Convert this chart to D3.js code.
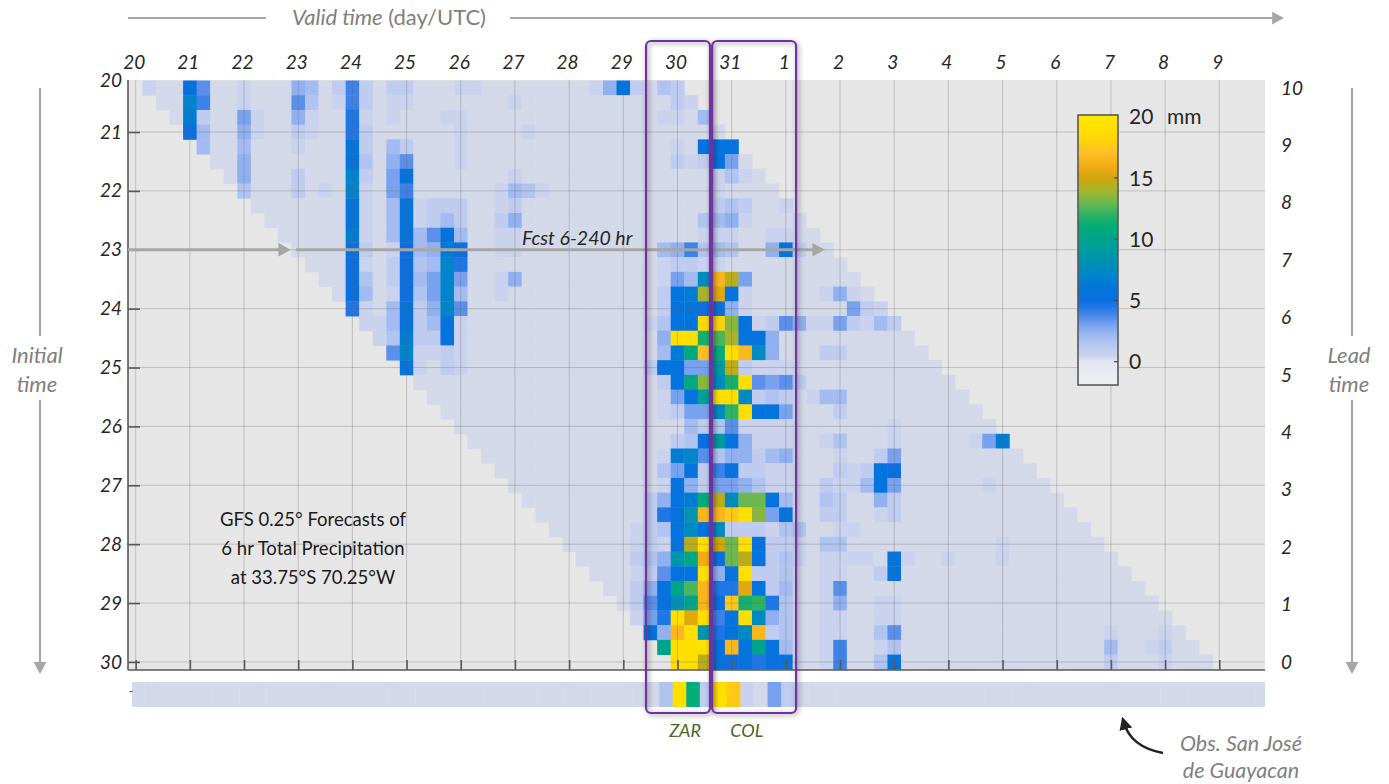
<!DOCTYPE html>
<html><head><meta charset="utf-8">
<script src="https://cdn.jsdelivr.net/npm/d3@7"></script>
<style>
body{margin:0;background:#fff}
svg{display:block}
text{font-family:Lato,"Open Sans","DejaVu Sans",sans-serif}
</style>
</head><body>
<svg id="chart" width="1389" height="784"></svg>
<script>
// ---------------- DATA ----------------
// valid-time day labels (Jan 20 .. Feb 9), one per day at 00 UTC
const validDayLabels = ["20","21","22","23","24","25","26","27","28","29","30","31","1","2","3","4","5","6","7","8","9"];
// initial-time day labels (Jan 20 .. Jan 30)
const initDayLabels = ["20","21","22","23","24","25","26","27","28","29","30"];
// lead-time labels (days), right axis
const leadDayLabels = [0,1,2,3,4,5,6,7,8,9,10];
// colour legend ticks (mm)
const legendTicks = [0,5,10,15,20];
// value codes: character index x 0.5 mm ; digits = run of that many 0-mm cells
const valueCodes = ".abcdefghijklmnopqrstuvwxyzABCDEFGHIJKLMN";
// 6-hr precip forecasts, one row per GFS run (Jan 20 06Z + 6h*k), leads 6..240 h (40 values)
const fcstRows = [
  "a2kg2a3ed.bhb.bb3aa8aekb.cb",
  "2nh2a3gc.ahb.aa7a11ba",
  ".mb2fa2ea2ia.a3aa14aa.d",
  "jd2ea2ba2ib6a4a14",
  "d2d3a3kb.db3a15a.kkk",
  "2e7kc.eg3a15babkf.",
  ".e3b3nb.fk7a14aca.",
  "c3b.a.na.fh6adca12a4",
  "7ka.dkabbb2ab14bcb2a",
  "6ka.dkabdb2be13cdea4",
  "5ma.dkdgkd2aa13aaa2aa2",
  "4jb.ajdemj2aa10dehcdc2ekb2",
  "3ja.bjcdni14abbaa9",
  "2jc.bjdfnf2ae10afdoGCf8",
  ".jd.ajcfnd2a11bkmBEka5aea.",
  "ia.dkbeng14bkkjjea7fba",
  "aadkbdka13acklKJAkabgeaafbadb",
  "acmbbka14eLLwyBkke10",
  "gnaaba14dmuHvLGoe3bb6",
  "ka.ba13bkkffrCbaaa11",
  "18bkuAowLgfgb11",
  "17afksLLobcb.add9",
  "16abffoxLkkf3b10",
  "17dbcgaaaa7a7",
  "15bcjrkeaaa2ac3a5afm",
  "13amngceebde3a2bf9",
  "12cfkbhkbbaa3babkj10",
  "11akebffecaa2baadkf6a4",
  "9bekmvCozzkd2cb2eb12",
  "8bikqGGILAfk2bb2ab13",
  "6abckokobbbacc2aa17",
  "5abakCLDzLkbba.cc11a7",
  "4bcequFjzCkbca.aaaa.ka2a3a8",
  "3abgkkLekLbbc2aa2bk17",
  "2bektyGiiEkbd2ag22",
  ".bgkptGjIwxic2ae2aa19",
  "afiLELhkLoec2aa2aa20",
  "keGLqikoGbc2aa2cg15a3a.",
  "tLLLjGktkd2ah2ac15d2ab2",
  "LLCkjkijk2ah2ck15b3a3"
];
// observed 6-hr precip at San José de Guayacan, Jan 20 00Z .. Feb 9 18Z (84 periods)
const obsRow = "39cLvbLIa.fb35";
// colour scale stops (mm) and colours
const colorStops = [0,0.5,1,1.5,2,2.5,3,3.5,4,4.5,5,6,7,8,9,10,11,12,13,14,15,16,17,18,19,20];
const colorRange = ["#d4d9ea","#cad2ee","#bfccef","#b1c4f0","#a3bbf0","#90b0f0","#78a2ee","#5a90ea","#3c82e8","#1e77e6","#0a70e2","#0076da","#0084cc","#008fb6","#009aa2","#00a48c","#00ac78","#2eb264","#6cb84e","#a6b42a","#d0a60a","#f4ac14","#ffbf26","#ffd30c","#ffdf00","#ffe600"];

function decode(s){
  const out=[]; const re=/(\d+)|(.)/g; let m;
  while((m=re.exec(s))){
    if(m[1]){ for(let n=+m[1];n>0;n--) out.push(0); }
    else out.push(valueCodes.indexOf(m[2])*0.5);
  }
  return out;
}

// ---------------- CHART ----------------
const svg = d3.select("#chart");
const plot = {left:128, right:1265, top:80, bottom:670};
const color = d3.scaleLinear().domain(colorStops).range(colorRange).clamp(true);
// time in days since Jan 20 00 UTC
const x = d3.scaleLinear().domain([-0.125, 20.875]).range([128.9, 1266.7]);
const y = d3.scaleLinear().domain([0.125, 10.125]).range([80.5, 669.3]);
const lead = d3.scaleLinear().domain([0,10]).range([662, 88]);
const FONT = "Lato,sans-serif";

const defs = svg.append("defs");
defs.append("clipPath").attr("id","plotClip").append("rect")
  .attr("x",plot.left).attr("y",plot.top).attr("width",plot.right-plot.left).attr("height",plot.bottom-plot.top);
defs.append("clipPath").attr("id","obsClip").append("rect")
  .attr("x",132).attr("y",680).attr("width",1265-132).attr("height",30);
const f = defs.append("filter").attr("id","shadow").attr("x","-30%").attr("y","-5%").attr("width","160%").attr("height","110%");
f.append("feDropShadow").attr("dx",1.5).attr("dy",1.5).attr("stdDeviation",2.4).attr("flood-color","#000").attr("flood-opacity",0.45);
defs.append("marker").attr("id","blackHead").attr("viewBox","0 0 10 10").attr("refX",5).attr("refY",5)
  .attr("markerWidth",5).attr("markerHeight",5).attr("orient","auto")
  .append("path").attr("d","M0,0 L10,5 L0,10 z").attr("fill","#222");

// plot background
svg.append("rect").attr("x",plot.left).attr("y",plot.top).attr("width",plot.right-plot.left)
  .attr("height",plot.bottom-plot.top).attr("fill","#e6e6e6");

// cells
const cells=[];
fcstRows.forEach((s,k)=>{
  const vals = decode(s);
  const tInit = 0.25 + 0.25*k;
  vals.forEach((v,i)=>{ cells.push({tInit, tv: tInit + 0.25*i, v}); });
});
svg.append("g").attr("clip-path","url(#plotClip)").selectAll("rect").data(cells).join("rect")
  .attr("x",d=>x(d.tv-0.125)).attr("width",d=>x(d.tv+0.125)-x(d.tv-0.125)+0.4)
  .attr("y",d=>y(d.tInit-0.125)).attr("height",d=>y(d.tInit+0.125)-y(d.tInit-0.125)+0.4)
  .attr("fill",d=>color(d.v));

// grid
const grid = svg.append("g").attr("stroke","rgba(100,100,100,0.3)").attr("stroke-width",1);
grid.selectAll("line.v").data(d3.range(0,21)).join("line").attr("class","v")
  .attr("x1",d=>x(d)).attr("x2",d=>x(d)).attr("y1",plot.top).attr("y2",plot.bottom);
grid.selectAll("line.h").data(d3.range(1,11)).join("line").attr("class","h")
  .attr("y1",d=>y(d)).attr("y2",d=>y(d)).attr("x1",plot.left).attr("x2",plot.right);

// axes
const axisColor="#595959";
const gL = svg.append("g").attr("transform",`translate(${plot.left},0)`)
  .call(d3.axisLeft(y).tickValues(d3.range(1,11)).tickSize(-12).tickSizeOuter(0).tickPadding(6)
    .tickFormat(d=>initDayLabels[d]));
gL.select(".domain").attr("stroke",axisColor).attr("stroke-width",1.6).attr("d",`M0,${plot.top}V${plot.bottom}`);
gL.selectAll(".tick line").attr("stroke",axisColor).attr("stroke-width",1.6);
gL.append("text").attr("x",-6).attr("y",81).attr("dy","0.32em").attr("text-anchor","end").text(initDayLabels[0]);
gL.selectAll("text").attr("fill","#262626").attr("font-size",19).attr("font-style","italic").attr("font-family",FONT);

const gB = svg.append("g").attr("transform",`translate(0,${plot.bottom})`)
  .call(d3.axisBottom(x).tickValues(d3.range(0,21)).tickSize(-10).tickSizeOuter(0).tickFormat(""));
gB.select(".domain").attr("stroke",axisColor).attr("stroke-width",1.6).attr("d",`M${plot.left},0H${plot.right}`);
gB.selectAll(".tick line").attr("stroke",axisColor).attr("stroke-width",1.6);

const gT = svg.append("g").attr("transform","translate(-2,69)")
  .call(d3.axisTop(x).tickValues(d3.range(0,21)).tickSize(0).tickPadding(0).tickFormat(d=>validDayLabels[d]));
gT.select(".domain").remove();
gT.selectAll("text").attr("fill","#262626").attr("font-size",19).attr("font-style","italic").attr("font-family",FONT);

const gR = svg.append("g").attr("transform","translate(1281,0)")
  .call(d3.axisRight(lead).tickValues(leadDayLabels).tickSize(0).tickPadding(0).tickFormat(d=>String(d)));
gR.select(".domain").remove();
gR.selectAll("text").attr("fill","#262626").attr("font-size",19).attr("font-style","italic").attr("font-family",FONT);

// observation bar
const obsVals = decode(obsRow);
svg.append("g").attr("clip-path","url(#obsClip)").append("g").attr("transform","translate(2,0)")
  .selectAll("rect").data(obsVals.map((v,j)=>({t:0.25*j,v}))).join("rect")
  .attr("x",d=>x(d.t-0.125)).attr("width",d=>x(d.t+0.125)-x(d.t-0.125)+0.4)
  .attr("y",682).attr("height",25).attr("fill",d=>color(d.v));
svg.append("text").attr("x",131).attr("y",696).attr("text-anchor","middle").attr("font-size",13).attr("fill","#555").text("-");

// Fcst arrow
const grey="#a6a6a6";
const yA = y(3); // init Jan 23 00Z gridline
function line(x1,y1,x2,y2,col,w){
  svg.append("line").attr("x1",x1).attr("y1",y1).attr("x2",x2).attr("y2",y2).attr("stroke",col).attr("stroke-width",w);
}
function headRight(xt,yt,col,s){
  svg.append("path").attr("d",`M${xt},${yt} L${xt-s*1.4},${yt-s*0.75} L${xt-s*1.4},${yt+s*0.75}z`).attr("fill",col);
}
function headDown(xt,yt,col,s){
  svg.append("path").attr("d",`M${xt},${yt} L${xt-s*0.75},${yt-s*1.4} L${xt+s*0.75},${yt-s*1.4}z`).attr("fill",col);
}
line(plot.left,yA,280,yA,grey,3); headRight(291,yA,grey,9);
line(296,yA,814,yA,grey,3); headRight(825,yA,grey,9);
svg.append("text").attr("x",522).attr("y",yA-5).attr("font-size",19.5).attr("font-style","italic").attr("fill","#262626").text("Fcst 6-240 hr");

// Valid time header
line(128,18,266,18,grey,2.2);
line(510,18,1272,18,grey,2.2); headRight(1284,18,grey,8.5);
const vt = svg.append("text").attr("x",389).attr("y",25).attr("text-anchor","middle").attr("font-size",22).attr("fill","#808080");
vt.append("tspan").attr("font-style","italic").text("Valid time");
vt.append("tspan").text(" (day/UTC)");

// Initial time / Lead time side labels
function sideLabel(cx, words){
  words.forEach((w,i)=>svg.append("text").attr("x",cx).attr("y",363+i*29).attr("text-anchor","middle")
    .attr("font-size",22).attr("font-style","italic").attr("fill","#808080").text(w));
}
sideLabel(37,["Initial","time"]);
line(40,88,40,336,grey,2.2); line(40,400,40,662,grey,2.2); headDown(40,674,grey,8.5);
sideLabel(1349,["Lead","time"]);
line(1352,88,1352,336,grey,2.2); line(1352,400,1352,662,grey,2.2); headDown(1352,674,grey,8.5);

// GFS text block
["GFS 0.25° Forecasts of","6 hr Total Precipitation","at 33.75°S 70.25°W"].forEach((t,i)=>{
  svg.append("text").attr("x",313).attr("y",526+i*29).attr("text-anchor","middle").attr("font-size",18.5).attr("fill","#1a1a1a").text(t);
});

// colour legend
const legY = d3.scaleLinear().domain([0,20]).range([361.7,116.7]);
const lg = defs.append("linearGradient").attr("id","legGrad").attr("x1",0).attr("x2",0).attr("y1",1).attr("y2",0);
colorStops.forEach((v,i)=>lg.append("stop").attr("offset",v/20).attr("stop-color", i===0 ? "#e2e5f2" : colorRange[i]));
const lg2 = defs.append("linearGradient").attr("id","legGrad2").attr("x1",0).attr("x2",0).attr("y1",0).attr("y2",1);
lg2.append("stop").attr("offset",0).attr("stop-color","#e2e5f2");
lg2.append("stop").attr("offset",1).attr("stop-color","#efefef");
svg.append("rect").attr("x",1078).attr("y",115).attr("width",40).attr("height",legY(20)-115+0.5).attr("fill",colorRange[colorRange.length-1]);
svg.append("rect").attr("x",1078).attr("y",legY(20)).attr("width",40).attr("height",legY(0)-legY(20)).attr("fill","url(#legGrad)");
svg.append("rect").attr("x",1078).attr("y",legY(0)-0.3).attr("width",40).attr("height",385-legY(0)+0.3).attr("fill","url(#legGrad2)");
svg.append("rect").attr("x",1078).attr("y",115).attr("width",40).attr("height",270).attr("fill","none").attr("stroke","#595959").attr("stroke-width",1.6);
const legG = svg.append("g");
legG.selectAll("line").data(legendTicks.slice(0,4)).join("line").attr("x1",1114).attr("x2",1118)
  .attr("y1",d=>legY(d)).attr("y2",d=>legY(d)).attr("stroke","#444").attr("stroke-width",1.2);
legG.selectAll("text").data(legendTicks).join("text").attr("x",1129).attr("y",d=>legY(d)).attr("dy","0.36em")
  .attr("font-size",21).attr("fill","#262626").text(d=>d);
svg.append("text").attr("x",1167).attr("y",legY(20)).attr("dy","0.36em").attr("font-size",21).attr("fill","#262626").text("mm");

// Obs label and curved arrow
svg.append("text").attr("x",1241).attr("y",751).attr("text-anchor","middle").attr("font-size",21.5).attr("font-style","italic").attr("fill","#808080").text("Obs. San José");
svg.append("text").attr("x",1241).attr("y",778).attr("text-anchor","middle").attr("font-size",21.5).attr("font-style","italic").attr("fill","#808080").text("de Guayacan");
svg.append("path").attr("d","M1163,753 Q1131,747 1124,723").attr("fill","none").attr("stroke","#222").attr("stroke-width",2.6).attr("marker-end","url(#blackHead)");

// station boxes (ZAR, COL), edges given in days since Jan 20 00 UTC
const boxes = [{name:"ZAR", t0:9.42, t1:10.60, tl:10.14}, {name:"COL", t0:10.64, t1:12.19, tl:11.28}];
const bx = svg.append("g").attr("filter","url(#shadow)");
bx.selectAll("rect").data(boxes).join("rect")
  .attr("x",d=>x(d.t0)).attr("width",d=>x(d.t1)-x(d.t0))
  .attr("y",41).attr("height",672).attr("rx",5).attr("fill","none").attr("stroke","#7030a0").attr("stroke-width",2.2);
svg.selectAll("text.box").data(boxes).join("text").attr("class","box")
  .attr("x",d=>x(d.tl)).attr("y",737).attr("text-anchor","middle")
  .attr("font-size",18).attr("font-style","italic").attr("fill","#4f6228").text(d=>d.name);
</script>
</body></html>
